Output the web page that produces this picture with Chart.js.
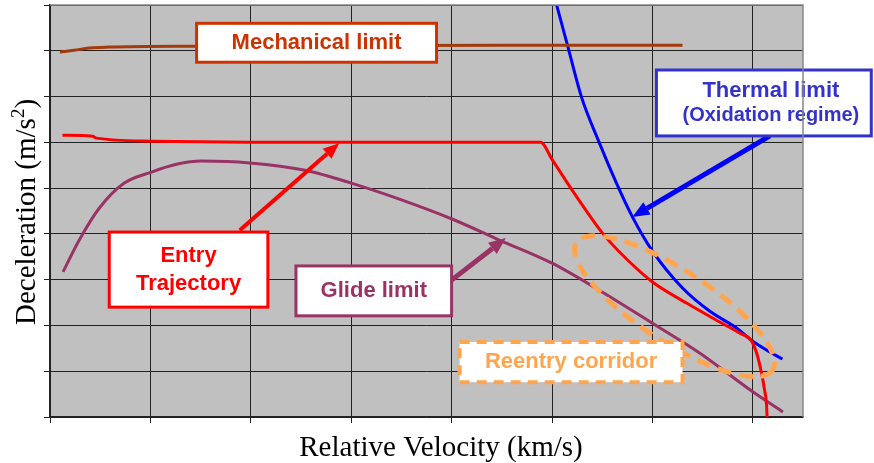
<!DOCTYPE html>
<html lang="en">
<head>
<meta charset="UTF-8">
<title>Entry corridor</title>
<script src="https://cdn.jsdelivr.net/npm/chart.js"></script>
<style>
  html, body { margin: 0; padding: 0; background: #fff; }
  #wrap { width: 874px; height: 463px; }
</style>
</head>
<body>
<div id="wrap"><canvas id="corridorChart"></canvas></div>
<script>
// values (x = relative velocity, y = deceleration, grid units)
const mechanicalVel = [0.10, 0.24, 0.39, 0.59, 1.49, 3.0, 4.5, 6.30];
const mechanicalDec = [7.97, 8.01, 8.06, 8.08, 8.10, 8.11, 8.12, 8.12];

const entryVel = [0.124, 0.423, 0.463, 1.011, 2.007, 3.0, 4.885, 5.005, 5.174, 5.344, 5.503, 5.672, 6.001, 6.340, 6.599, 6.868, 6.988, 7.038, 7.087, 7.117, 7.137, 7.142];
const entryDec = [6.157, 6.135, 6.092, 6.026, 6.004, 6.0, 6.0, 5.611, 5.044, 4.498, 4.017, 3.603, 2.948, 2.489, 2.162, 1.834, 1.659, 1.397, 0.961, 0.590, 0.262, 0.0];

const thermalVel = [5.025, 5.154, 5.294, 5.473, 5.642, 5.802, 6.001, 6.300, 6.569, 6.838, 6.997, 7.136, 7.295];
const thermalDec = [9.17, 8.122, 6.987, 5.983, 5.109, 4.367, 3.624, 2.817, 2.314, 1.943, 1.659, 1.463, 1.266];

const glideVel = [0.13, 0.29, 0.49, 0.74, 1.01, 1.26, 1.51, 1.99, 2.54, 3.0, 3.48, 4.01, 4.48, 5.0, 5.47, 6.0, 6.47, 7.0, 7.3];
const glideDec = [3.17, 3.86, 4.56, 5.11, 5.35, 5.52, 5.59, 5.55, 5.39, 5.11, 4.76, 4.32, 3.86, 3.36, 2.77, 2.05, 1.40, 0.55, 0.11];

const velMax = 7.5;
const decMax = 9;

function pairs(xs, ys) {
    return xs.map((x, i) => ({ x: x, y: ys[i] }));
}

function series(data, color) {
    return {
        data: data,
        borderColor: color,
        borderWidth: 3,
        pointRadius: 0,
        fill: false,
        cubicInterpolationMode: 'monotone'
    };
}

// callout boxes and arrows, placed in axis units
const labelBoxes = [
    { lines: [['Mechanical limit', 22]], x0: 1.46, x1: 3.85, y0: 8.60, y1: 7.75, color: '#CC3300', lh: 26 },
    { lines: [['Thermal limit', 22], ['(Oxidation regime)', 20]], x0: 6.04, x1: 8.18, y0: 7.58, y1: 6.14, tx: 7.18, color: '#3333CC', lh: 25 },
    { lines: [['Entry', 22], ['Trajectory', 22]], x0: 0.59, x1: 2.17, y0: 4.04, y1: 2.40, color: '#FF0000', lh: 28 },
    { lines: [['Glide limit', 22]], x0: 2.45, x1: 4.0, y0: 3.30, y1: 2.21, color: '#993366', lh: 26 }
];
const arrows = [
    { from: [1.89, 4.08], to: [2.88, 5.98], color: '#FF0000', w: 4 },
    { from: [4.0, 2.99], to: [4.54, 3.91], color: '#993366', w: 5 },
    { from: [7.17, 6.14], to: [5.80, 4.37], color: '#0000FF', w: 5 }
];
const corridorBox = { text: 'Reentry corridor', x0: 4.08, x1: 6.30, y0: 1.64, y1: 0.76, color: '#FFA54F' };
const corridorRing = { cx: 6.22, cy: 2.42, rx: 117, ry: 36, angle: 33 };

const serif = '"Liberation Serif", "Times New Roman", serif';

const plotBackground = {
    id: 'plotBackground',
    beforeDraw(chart) {
        const { ctx, chartArea: a } = chart;
        ctx.save();
        ctx.fillStyle = '#C0C0C0';
        ctx.fillRect(a.left, a.top, a.right - a.left, a.bottom - a.top);
        ctx.restore();
    },
    afterDraw(chart) {
        const { ctx, chartArea: a } = chart;
        ctx.save();
        ctx.strokeStyle = '#888';
        ctx.lineWidth = 1.5;
        ctx.beginPath();
        ctx.moveTo(a.left, a.top);
        ctx.lineTo(a.right, a.top);
        ctx.lineTo(a.right, a.bottom);
        ctx.stroke();

        // axis titles
        ctx.fillStyle = '#000';
        ctx.textBaseline = 'alphabetic';
        ctx.textAlign = 'center';
        ctx.font = '29px ' + serif;
        ctx.fillText('Relative Velocity (km/s)', 441, 456);

        ctx.translate(35, 212);
        ctx.rotate(-Math.PI / 2);
        ctx.textAlign = 'left';
        const main = 'Deceleration (m/s';
        ctx.font = '29px ' + serif;
        const w1 = ctx.measureText(main).width;
        ctx.font = '19px ' + serif;
        const w2 = ctx.measureText('2').width;
        ctx.font = '29px ' + serif;
        const w3 = ctx.measureText(')').width;
        let x = -(w1 + w2 + w3) / 2;
        ctx.fillText(main, x, 0);
        x += w1;
        ctx.font = '19px ' + serif;
        ctx.fillText('2', x, -11);
        x += w2;
        ctx.font = '29px ' + serif;
        ctx.fillText(')', x, 0);
        ctx.restore();
    }
};

function drawArrow(ctx, x1, y1, x2, y2, color, w) {
    const ang = Math.atan2(y2 - y1, x2 - x1);
    const head = 12 + w;
    const half = head * 0.42;
    const bx = x2 - head * Math.cos(ang);
    const by = y2 - head * Math.sin(ang);
    ctx.strokeStyle = color;
    ctx.fillStyle = color;
    ctx.lineWidth = w;
    ctx.beginPath();
    ctx.moveTo(x1, y1);
    ctx.lineTo(bx, by);
    ctx.stroke();
    ctx.beginPath();
    ctx.moveTo(x2, y2);
    ctx.lineTo(bx + half * Math.sin(ang), by - half * Math.cos(ang));
    ctx.lineTo(bx - half * Math.sin(ang), by + half * Math.cos(ang));
    ctx.closePath();
    ctx.fill();
}

const callouts = {
    id: 'callouts',
    afterDatasetsDraw(chart) {
        const ctx = chart.ctx;
        const sx = chart.scales.x, sy = chart.scales.y;
        const px = v => sx.getPixelForValue(v);
        const py = v => sy.getPixelForValue(v);
        ctx.save();
        ctx.lineCap = 'butt';

        arrows.forEach(a => {
            drawArrow(ctx, px(a.from[0]), py(a.from[1]), px(a.to[0]), py(a.to[1]), a.color, a.w);
        });

        ctx.textAlign = 'center';
        ctx.textBaseline = 'middle';
        labelBoxes.forEach(b => {
            const l = px(b.x0), r = px(b.x1), t = py(b.y0), btm = py(b.y1);
            ctx.fillStyle = '#fff';
            ctx.fillRect(l, t, r - l, btm - t);
            ctx.strokeStyle = b.color;
            ctx.lineWidth = 3;
            ctx.strokeRect(l, t, r - l, btm - t);
            ctx.fillStyle = b.color;
            const cx = b.tx !== undefined ? px(b.tx) : (l + r) / 2;
            const cy = (t + btm) / 2;
            const n = b.lines.length;
            b.lines.forEach((ln, i) => {
                ctx.font = 'bold ' + ln[1] + 'px "Liberation Sans", Arial, sans-serif';
                ctx.fillText(ln[0], cx, cy + (i - (n - 1) / 2) * b.lh);
            });
        });

        // dashed ring around the corridor
        const ring = corridorRing;
        ctx.strokeStyle = corridorBox.color;
        ctx.lineWidth = 5;
        ctx.setLineDash([14, 8]);
        ctx.beginPath();
        ctx.ellipse(px(ring.cx), py(ring.cy), ring.rx, ring.ry, ring.angle * Math.PI / 180, 0, Math.PI * 2);
        ctx.stroke();

        const c = corridorBox;
        const l = px(c.x0), r = px(c.x1), t = py(c.y0), btm = py(c.y1);
        ctx.setLineDash([]);
        ctx.fillStyle = '#fff';
        ctx.fillRect(l, t, r - l, btm - t);
        ctx.setLineDash([10, 7]);
        ctx.lineWidth = 4;
        ctx.strokeRect(l, t, r - l, btm - t);
        ctx.setLineDash([]);
        ctx.fillStyle = c.color;
        ctx.font = 'bold 22px "Liberation Sans", Arial, sans-serif';
        ctx.fillText(c.text, (l + r) / 2, (t + btm) / 2);
        ctx.restore();
    }
};

new Chart(document.getElementById('corridorChart'), {
    type: 'line',
    data: {
        datasets: [
            series(pairs(mechanicalVel, mechanicalDec), '#A33A0A'),
            series(pairs(entryVel, entryDec), '#FF0000'),
            series(pairs(thermalVel, thermalDec), '#0000FF'),
            series(pairs(glideVel, glideDec), '#993366')
        ]
    },
    options: {
        responsive: true,
        maintainAspectRatio: false,
        animation: false,
        layout: { padding: { left: 44, right: 71, top: 5, bottom: 40 } },
        plugins: { legend: { display: false }, tooltip: { enabled: false } },
        scales: {
            x: {
                type: 'linear',
                min: 0,
                max: velMax,
                ticks: { stepSize: 1, display: false, includeBounds: false },
                grid: { color: '#222', lineWidth: 1, tickLength: 6 },
                border: { color: '#222', width: 1.5 }
            },
            y: {
                type: 'linear',
                min: 0,
                max: decMax,
                ticks: { stepSize: 1, display: false },
                grid: { color: '#222', lineWidth: 1, tickLength: 6 },
                border: { color: '#222', width: 1.5 }
            }
        }
    },
    plugins: [plotBackground, callouts]
});
</script>
</body>
</html>
